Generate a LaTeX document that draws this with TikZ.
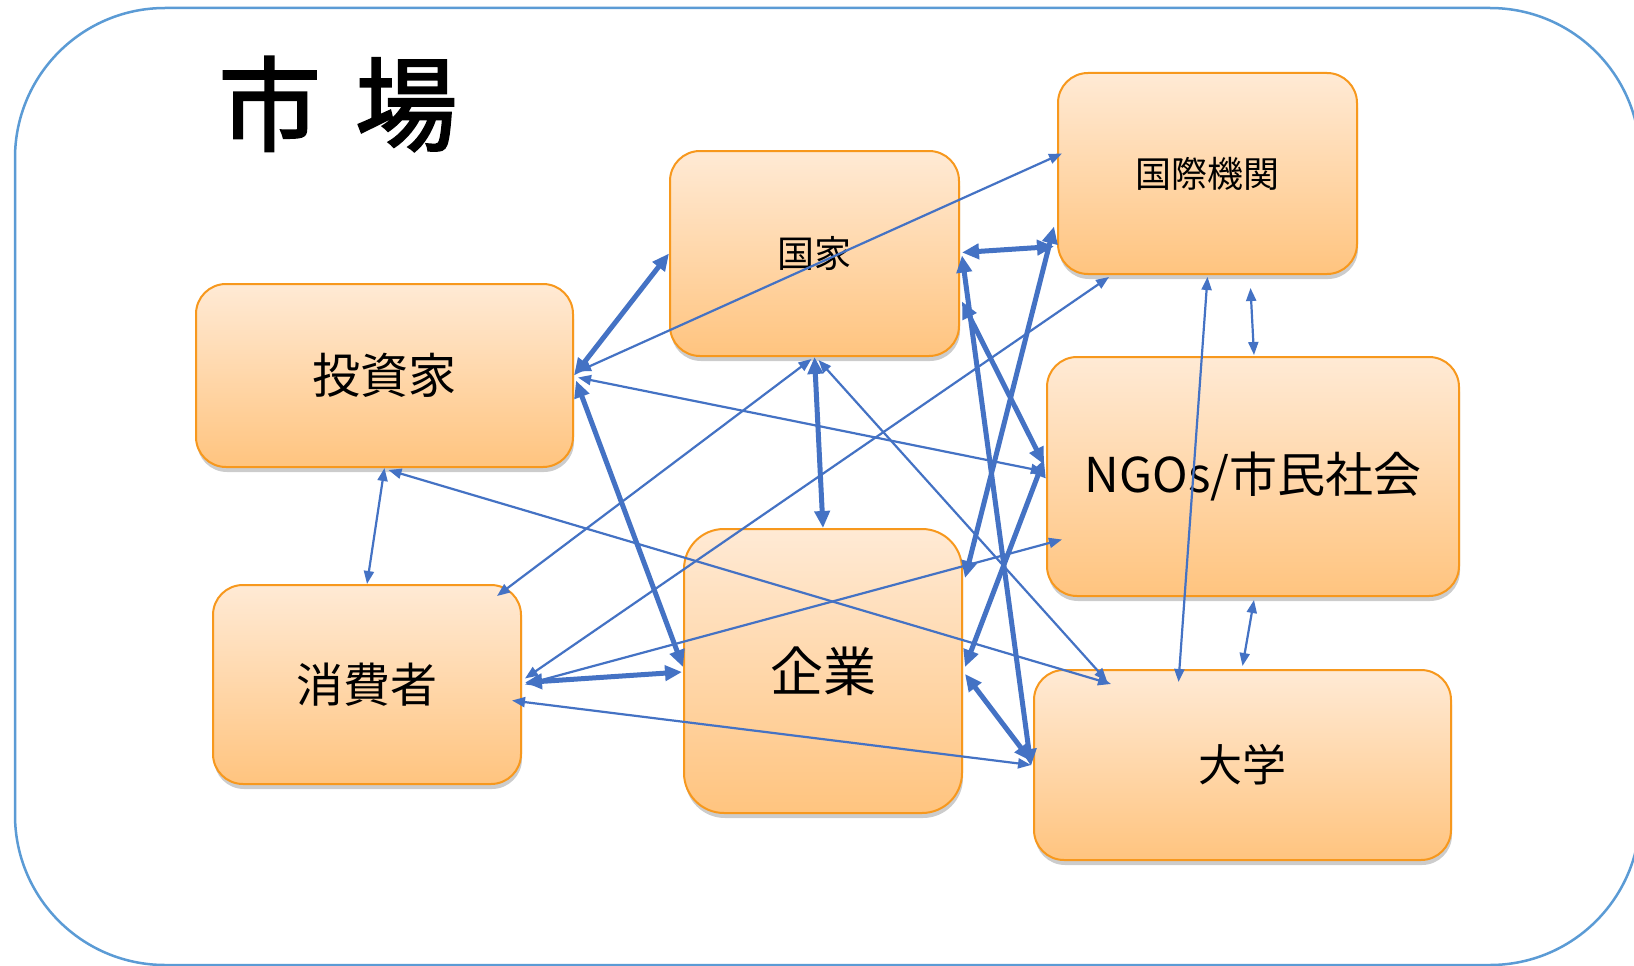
\documentclass[tikz,border=0pt]{standalone}
\usepackage{fontspec}
\setmainfont{Noto Sans CJK JP}
\newfontfamily\titlefont[FakeBold=2.2]{Noto Sans CJK JP}
\usetikzlibrary{arrows.meta,shadows,calc}
\definecolor{frameblue}{HTML}{5B9BD5}
\definecolor{arrblue}{HTML}{4472C4}
\definecolor{boxline}{HTML}{F7981D}
\definecolor{boxtop}{HTML}{FFEAD5}
\definecolor{boxbot}{HTML}{FFC47F}
\tikzset{
  actor/.style={draw=boxline, line width=2pt, rounded corners=30pt,
    top color=boxtop, bottom color=boxbot,
    drop shadow={shadow xshift=1pt, shadow yshift=-5pt, opacity=0.2, fill=black},
    inner sep=0pt, align=center},
  thin link/.style={draw=arrblue, line width=2.2pt,
    {Triangle[length=13pt,width=10pt]}-{Triangle[length=13pt,width=10pt]}},
  thick link/.style={draw=arrblue, line width=5pt,
    {Triangle[length=17pt,width=15pt]}-{Triangle[length=17pt,width=15pt]}},
}
\begin{document}
\begin{tikzpicture}[x=1pt,y=-1pt]
\useasboundingbox (0,0) rectangle (1634,966);
\clip (0,0) rectangle (1634,966);
\fill[white] (0,0) rectangle (1634,966);
\draw[frameblue, line width=2.5pt, rounded corners=150pt] (15,8) rectangle (1640,965);
\node[font=\titlefont\fontsize{102}{110}\selectfont, inner sep=0pt] (title) at (338,104) {市\hspace{0.34em}場};
% boxes
\node[actor, minimum width=377pt, minimum height=183pt, font=\fontsize{48}{52}\selectfont] (inv) at (384.5,375.5) {投資家};
\node[actor, minimum width=289pt, minimum height=205pt, font=\fontsize{37}{40}\selectfont] (nat) at (814.5,253.5) {国家};
\node[actor, minimum width=299pt, minimum height=201pt, font=\fontsize{36}{40}\selectfont] (io) at (1207.5,173.5) {\raisebox{3pt}{国際機関}};
\node[actor, minimum width=412pt, minimum height=239pt, font=\fontsize{48}{52}\selectfont] (ngo) at (1253,476.5) {NGOs/市民社会};
\node[actor, minimum width=308pt, minimum height=199pt, font=\fontsize{47}{50}\selectfont] (con) at (367,684.5) {消費者};
\node[actor, minimum width=278pt, minimum height=284pt, rounded corners=40pt, font=\fontsize{53}{56}\selectfont] (ent) at (823,671) {企業};
\node[actor, minimum width=417pt, minimum height=190pt, font=\fontsize{44}{48}\selectfont] (uni) at (1242.5,765) {大学};
% connectors
\draw[thick link] (inv.east) -- (nat.west);
\draw[thin link] ($(inv.east)+(4,-4)$) -- ($(io.west)+(5,-20)$);
\draw[thin link] ($(inv.east)+(4,2)$) -- ($(ngo.west)+(-2,-5)$);
\draw[thick link] ($(inv.east)+(2,5)$) -- ($(ent.west)+(0,-4)$);
\draw[thin link] (inv.south) -- (con.north);
\draw[thin link] ($(inv.south)+(4,2)$) -- ($(uni.north west)+(78,15)$);
\draw[thin link] ($(nat.south)+(-3,2)$) -- ($(con.north east)+(-25,12)$);
\draw[thick link] (nat.south) -- (ent.north);
\draw[thin link] ($(nat.south)+(4,3)$) -- ($(uni.north west)+(74,12)$);
\draw[thick link] ($(nat.east)+(2,-1)$) -- ($(io.west)+(-3,73)$);
\draw[thick link] ($(nat.east)+(2,2)$) -- ($(uni.west)+(-2,1)$);
\draw[thick link] ($(nat.east)+(2,48)$) -- ($(ngo.west)+(-2,-12)$);
\draw[thick link] ($(io.west)+(-3,53)$) -- ($(ent.east)+(2,-93)$);
\draw[thin link] ($(io.south west)+(52,2)$) -- ($(con.east)+(3,-6)$);
\draw[thin link] ($(io.south)+(0,2)$) -- ($(uni.north)+(-64,13)$);
\draw[thin link] ($(io.south)+(43,13)$) -- ($(ngo.north)+(1,-1)$);
\draw[thick link] ($(ngo.west)+(-2,-17)$) -- ($(ent.east)+(2,-4)$);
\draw[thin link] ($(ngo.west)+(16,63)$) -- ($(con.east)+(3,0)$);
\draw[thin link] ($(ngo.south)+(1,3)$) -- ($(uni.north)+(0,-3)$);
\draw[thick link] ($(con.east)+(3,-2)$) -- ($(ent.west)+(-1,1)$);
\draw[thin link] ($(con.east)+(-10,16)$) -- ($(uni.west)+(-2,0)$);
\draw[thick link] ($(ent.east)+(2,3)$) -- ($(uni.west)+(-2,-4)$);
\end{tikzpicture}
\end{document}
